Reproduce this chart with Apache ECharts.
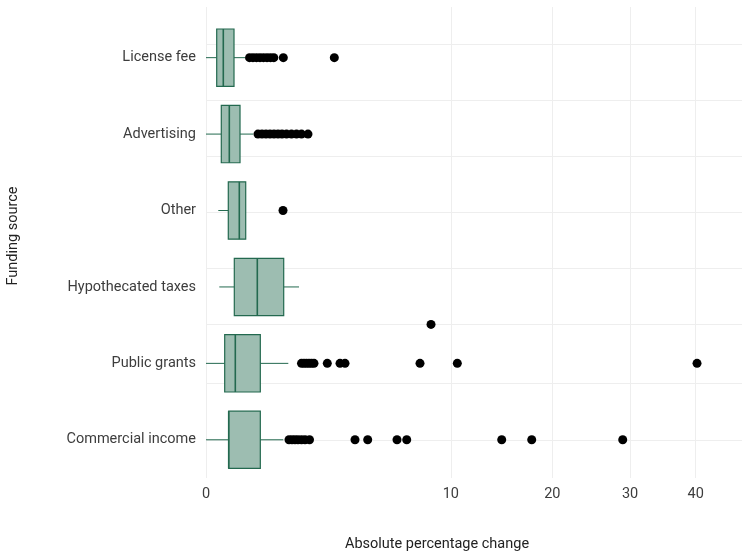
<!DOCTYPE html>
<html>
<head>
<meta charset="utf-8">
<script src="https://cdn.jsdelivr.net/npm/echarts@6/dist/echarts.min.js"></script>
<style>
  html, body { margin: 0; padding: 0; background: #ffffff; }
  #chart { width: 742px; height: 555px; }
</style>
</head>
<body>
<div id="chart"></div>
<script>
// Funding sources, bottom to top
const categories = ['Commercial income', 'Public grants', 'Hypothecated taxes', 'Other', 'Advertising', 'License fee'];

// Box statistics (absolute percentage change), one entry per category
const whiskerLow  = [0,     0,      0.0295, 0.0252, 0,      0];
const quartile1   = [0.086, 0.0583, 0.1336, 0.0829, 0.039,  0.0191];
const medians     = [0.086, 0.1432, 0.439,  0.185,  0.0906, 0.0499];
const quartile3   = [0.492, 0.492,  1.007,  0.263,  0.193,  0.1308];
const whiskerHigh = [0.997, 1.130,  1.443,  0.263,  0.373,  0.254];

// Outlying observations per category
const outliersCommercial = [1.149, 1.234, 1.321, 1.412, 1.521, 1.635, 1.787, 3.703, 4.361, 6.085, 6.719, 14.584, 17.694, 28.962];
const outliersPublic     = [1.521, 1.602, 1.685, 1.770, 1.856, 1.945, 2.454, 2.995, 3.223, 7.638, 10.533, 40.21];
const outliersHypothec   = [];
const outliersOther      = [0.989];
const outliersAdvertising = [0.451, 0.523, 0.600, 0.683, 0.771, 0.865, 0.963, 1.081, 1.219, 1.366, 1.521, 1.735];
const outliersLicense    = [0.316, 0.368, 0.425, 0.486, 0.551, 0.621, 0.694, 0.767, 0.997, 2.746];

// Single observation sitting between Public grants and Hypothecated taxes
const strayValue = [8.444];
const strayRow = [1.51];

// Tick labels on the square-root axis
const tickLabels = [0, 10, 20, 30, 40];
// Horizontal reference lines (in row units)
const gridRows = [0, 0.742, 1.513, 2.246, 2.982, 3.714, 4.447, 5.175];

const outlierGroups = [outliersCommercial, outliersPublic, outliersHypothec, outliersOther, outliersAdvertising, outliersLicense];

const sq = Math.sqrt;
const FONT = 'Roboto, "Liberation Sans", sans-serif';
const BOX_FILL = '#9dbdb1';
const BOX_LINE = '#23694f';

const boxData = categories.map((c, i) => [
  i, sq(whiskerLow[i]), sq(quartile1[i]), sq(medians[i]), sq(quartile3[i]), sq(whiskerHigh[i])
]);

const outlierData = [];
outlierGroups.forEach((arr, i) => arr.forEach(v => outlierData.push([sq(v), i])));
strayValue.forEach((v, k) => outlierData.push([sq(v), strayRow[k]]));

const chart = echarts.init(document.getElementById('chart'), null, { renderer: 'canvas' });

chart.setOption({
  animation: false,
  backgroundColor: '#ffffff',
  grid: { left: 206, right: 0, top: 7, bottom: 77, containLabel: false },
  xAxis: {
    type: 'value',
    min: 0,
    max: 6.922,
    axisLine: { show: false },
    axisTick: { show: false, customValues: tickLabels.map(sq) },
    axisLabel: {
      customValues: tickLabels.map(sq),
      formatter: v => String(Math.round(v * v)),
      color: '#3d3d3d',
      fontFamily: FONT,
      fontSize: 14.5,
      margin: 9
    },
    splitLine: { show: true, lineStyle: { color: '#eeeeee', width: 1 } }
  },
  yAxis: {
    type: 'value',
    min: -0.5,
    max: 5.663,
    axisLine: { show: false },
    axisTick: { show: false, customValues: gridRows },
    axisLabel: {
      customValues: categories.map((c, i) => i),
      formatter: v => categories[Math.round(v)],
      color: '#3d3d3d',
      fontFamily: FONT,
      fontSize: 14.5,
      margin: 10
    },
    splitLine: { show: true, lineStyle: { color: '#eeeeee', width: 1 } }
  },
  graphic: [
    {
      type: 'text',
      x: 437, y: 544,
      style: {
        text: 'Absolute percentage change',
        fill: '#222222',
        font: '14.5px ' + FONT,
        textAlign: 'center',
        textVerticalAlign: 'middle'
      }
    },
    {
      type: 'text',
      x: 13, y: 236,
      rotation: Math.PI / 2,
      style: {
        text: 'Funding source',
        fill: '#222222',
        font: '14.5px ' + FONT,
        textAlign: 'center',
        textVerticalAlign: 'middle'
      }
    }
  ],
  series: [
    {
      type: 'custom',
      data: boxData,
      encode: { x: [1, 2, 3, 4, 5], y: 0 },
      clip: true,
      z: 2,
      renderItem: function (params, api) {
        const row = api.value(0);
        const lo = api.coord([api.value(1), row]);
        const q1 = api.coord([api.value(2), row]);
        const md = api.coord([api.value(3), row]);
        const q3 = api.coord([api.value(4), row]);
        const hi = api.coord([api.value(5), row]);
        const h = api.size([0, 1])[1] * 0.75;
        const y = q1[1];
        return {
          type: 'group',
          children: [
            { type: 'line', shape: { x1: lo[0], y1: y, x2: q1[0], y2: y }, style: { stroke: BOX_LINE, lineWidth: 1 } },
            { type: 'line', shape: { x1: q3[0], y1: y, x2: hi[0], y2: y }, style: { stroke: BOX_LINE, lineWidth: 1 } },
            { type: 'rect', shape: { x: q1[0], y: y - h / 2, width: q3[0] - q1[0], height: h }, style: { fill: BOX_FILL, stroke: BOX_LINE, lineWidth: 1.2 } },
            { type: 'line', shape: { x1: md[0], y1: y - h / 2, x2: md[0], y2: y + h / 2 }, style: { stroke: BOX_LINE, lineWidth: 1.6 } }
          ]
        };
      }
    },
    {
      type: 'scatter',
      data: outlierData,
      symbol: 'circle',
      symbolSize: 9,
      itemStyle: { color: '#000000', opacity: 1 },
      z: 3
    }
  ]
});
</script>
</body>
</html>
